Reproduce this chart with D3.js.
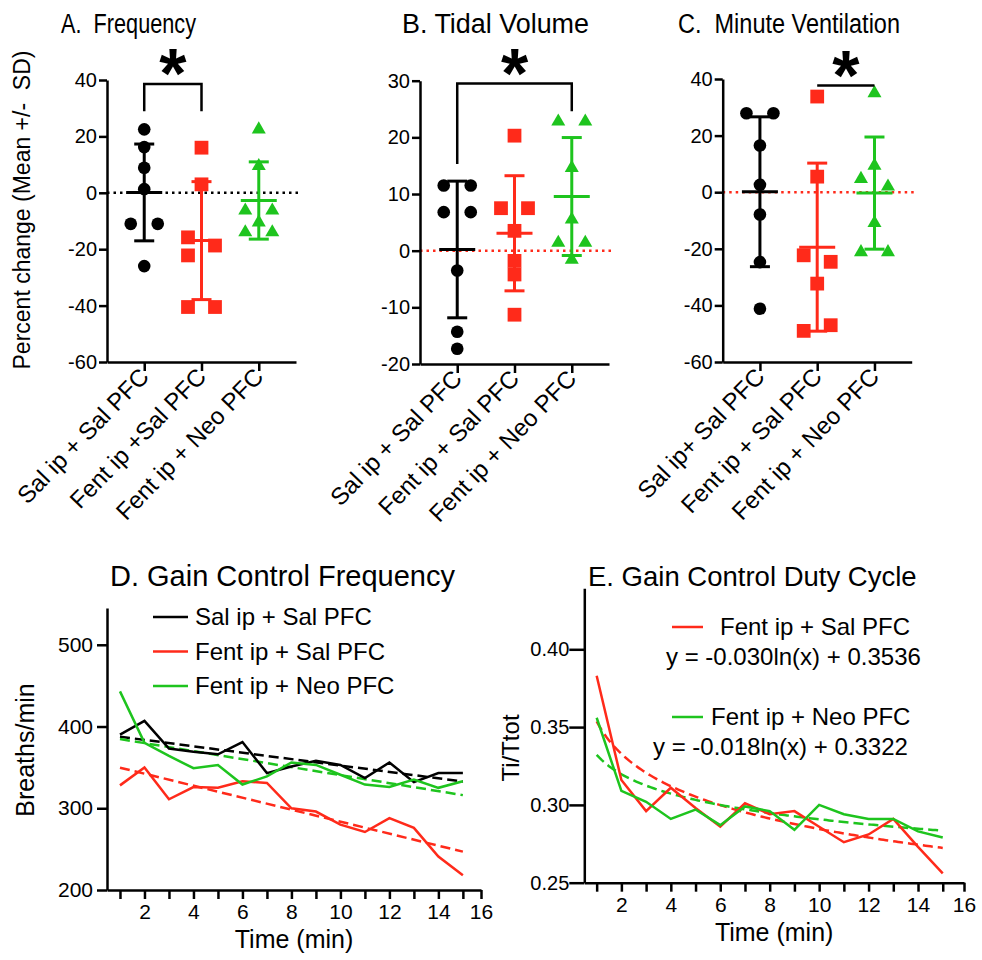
<!DOCTYPE html>
<html>
<head>
<meta charset="utf-8">
<script src="https://cdn.jsdelivr.net/npm/d3@7"></script>
<style>
  body { margin: 0; background: #fff; }
  svg { display: block; }
  text { font-family: "Liberation Sans", Arial, sans-serif; fill: #000; white-space: pre; }
</style>
</head>
<body>
<svg id="chart" width="982" height="960"></svg>
<script>
// group names + colours
const groups = ["Sal ip + Sal PFC", "Fent ip + Sal PFC", "Fent ip + Neo PFC"];
const colors = ["#000000", "#ff2a1a", "#1ec41e"];

// panel A - frequency, % change
const freqSal = [22.5, 16.2, 8.9, 1.3, -11, -11, -26];
const freqFent = [16, 3, -15.8, -18.7, -22.2, -40.5, -40.5];
const freqNeo = [22.5, 9.5, -6.3, -6.3, -10.5, -14, -14];
// which column each dot sits in (-1 left, 0 centre, 1 right)
const freqSlots = [[0, 0, 0, 0, -1, 1, 0], [0, 0, -1, 1, -1, -1, 1], [0, 0, -1, 1, 0, -1, 1]];
const freqLabels = ["Sal ip + Sal PFC", "Fent ip +Sal PFC", "Fent ip + Neo PFC"];
const freqTicks = [-60, -40, -20, 0, 20, 40];

// panel B - tidal volume, % change
const tvSal = [11.5, 11.5, 6.8, 6.8, -3.5, -14.3, -17.3];
const tvFent = [20.3, 7.5, 7.5, 3.5, -1.8, -4.2, -11.3];
const tvNeo = [22.8, 22.8, 14.6, 5.5, 1.4, 1.4, -1.6];
const tvSlots = [[-1, 1, -1, 1, 0, 0, 0], [0, -1, 1, 0, 0, 0, 0], [-1, 1, 0, 0, -1, 1, 0]];
const tvLabels = ["Sal ip + Sal PFC", "Fent ip + Sal PFC", "Fent ip + Neo PFC"];
const tvTicks = [-20, -10, 0, 10, 20, 30];

// panel C - minute ventilation, % change
const mvSal = [27.9, 27.9, 16.5, 2.6, -7.9, -24.7, -41.2];
const mvFent = [33.8, 5.5, -22.3, -24.6, -32.3, -47, -49];
const mvNeo = [35, 9.4, 4.7, 2, -10.9, -21.2, -21.2];
const mvSlots = [[-1, 1, 0, 0, 0, 0, 0], [0, 0, -1, 1, 0, 1, -1], [0, 0, -1, 1, 0, -1, 1]];
const mvLabels = ["Sal ip+ Sal PFC", "Fent ip + Sal PFC", "Fent ip + Neo PFC"];
const mvTicks = [-60, -40, -20, 0, 20, 40];

// panel D - gain control frequency (breaths/min)
const minutes = [1, 2, 3, 4, 5, 6, 7, 8, 9, 10, 11, 12, 13, 14, 15];
const gainSal = [390, 407, 373, 369, 366, 381, 343, 351, 358, 353, 337, 356, 332, 343, 343];
const gainFent = [328, 350, 311, 326, 325, 333, 331, 300, 296, 280, 271, 288, 276, 241, 218];
const gainNeo = [443, 380, 364, 349, 353, 329, 339, 356, 353, 341, 329, 326, 335, 325, 333];
const gainTicks = [200, 300, 400, 500];

// panel E - duty cycle Ti/Ttot, with log fits [slope, intercept]
const dutyFent = [0.383, 0.316, 0.296, 0.311, 0.298, 0.286, 0.301, 0.294, 0.296, 0.286, 0.276, 0.281, 0.291, 0.273, 0.256];
const dutyNeo = [0.356, 0.309, 0.302, 0.291, 0.297, 0.287, 0.299, 0.296, 0.284, 0.300, 0.294, 0.291, 0.291, 0.283, 0.279];
const fitFent = [-0.030, 0.3536];
const fitNeo = [-0.018, 0.3322];
const dutyTicks = [0.25, 0.30, 0.35, 0.40];

const svg = d3.select("#chart");
const shapes = [d3.symbolCircle, d3.symbolSquare, d3.symbolTriangle];
const shapeSizes = [125, 190, 85];

function styleAxis(sel, fontSize) {
  sel.selectAll("path, line").attr("stroke", "#000").attr("stroke-width", 2.5);
  sel.selectAll("text").attr("font-size", fontSize).attr("font-family", null).attr("fill", "#000");
}

function scatterPanel(p) {
  const g = svg.append("g");
  const y = d3.scaleLinear().domain(p.yDomain).range([p.bottom, p.top]);
  const x = d3.scalePoint().domain([0, 1, 2]).range([p.left, p.left + 189]).padding(0.65);
  const slot = d3.scalePoint().domain([-1, 0, 1]).range([-13.5, 13.5]);

  // dotted zero line
  g.append("line")
    .attr("x1", p.left).attr("x2", p.left + 192)
    .attr("y1", y(0)).attr("y2", y(0))
    .attr("stroke", p.zeroColor).attr("stroke-width", 2.5)
    .attr("stroke-dasharray", "2.5,4");

  g.append("g")
    .attr("transform", `translate(${p.left},0)`)
    .call(d3.axisLeft(y).tickValues(p.yTicks).tickSize(8).tickSizeOuter(0).tickFormat((d) => String(d)))
    .call((a) => styleAxis(a, 20))
    .call((a) => a.selectAll("text").attr("x", -10));

  g.append("g")
    .attr("transform", `translate(0,${p.bottom})`)
    .call(d3.axisBottom(x).tickSize(9).tickSizeOuter(0).tickFormat(""))
    .call((a) => styleAxis(a, 20));

  // rotated category labels
  g.selectAll(".cat")
    .data(p.labels)
    .join("text")
    .attr("transform", (d, i) => `translate(${x(i) + 6},${p.bottom + 16}) rotate(-46)`)
    .attr("text-anchor", "end")
    .attr("font-size", 24)
    .text((d) => d);

  p.series.forEach((vals, i) => {
    const m = d3.mean(vals);
    const s = d3.deviation(vals);
    const cx = x(i);
    const c = colors[i];
    const eb = g.append("g").attr("stroke", c).attr("stroke-width", 3);
    eb.append("line").attr("x1", cx).attr("x2", cx).attr("y1", y(m - s)).attr("y2", y(m + s));
    eb.append("line").attr("x1", cx - 18).attr("x2", cx + 18).attr("y1", y(m)).attr("y2", y(m));
    [m - s, m + s].forEach((v) => {
      eb.append("line").attr("x1", cx - 10).attr("x2", cx + 10).attr("y1", y(v)).attr("y2", y(v));
    });

    g.selectAll(null)
      .data(vals)
      .join("path")
      .attr("d", d3.symbol(shapes[i], shapeSizes[i]))
      .attr("transform", (d, j) => `translate(${cx + slot(p.slots[i][j])},${y(d)})`)
      .attr("fill", c);
  });

  // significance bracket
  const b = p.bracket;
  const x1 = x(b.from), x2 = x(b.to);
  const d = `M${x1},${y(b.legs[0])}V${y(b.top)}H${x2}V${y(b.legs[1])}`;
  g.append("path").attr("d", d).attr("fill", "none").attr("stroke", "#000").attr("stroke-width", 2.5);
  g.append("text")
    .attr("x", (x1 + x2) / 2)
    .attr("y", y(b.top) + 14)
    .attr("text-anchor", "middle")
    .attr("font-size", 70)
    .attr("font-weight", "bold")
    .text("*");

  g.append("text")
    .attr("x", p.titleX)
    .attr("y", 33)
    .attr("font-size", 27)
    .attr("textLength", p.titleW)
    .attr("lengthAdjust", "spacingAndGlyphs")
    .text(p.title);
}

scatterPanel({
  title: "A.  Frequency", titleX: 61, titleW: 135,
  left: 107, top: 80, bottom: 362, yDomain: [-60, 40], yTicks: freqTicks,
  series: [freqSal, freqFent, freqNeo], slots: freqSlots, labels: freqLabels,
  zeroColor: "#000", bracket: { from: 0, to: 1, top: 38.6, legs: [28.9, 28.9] },
});
scatterPanel({
  title: "B. Tidal Volume", titleX: 402, titleW: 187,
  left: 420, top: 80.7, bottom: 364, yDomain: [-20, 30], yTicks: tvTicks,
  series: [tvSal, tvFent, tvNeo], slots: tvSlots, labels: tvLabels,
  zeroColor: colors[1], bracket: { from: 0, to: 2, top: 29.5, legs: [15.3, 24.6] },
});
scatterPanel({
  title: "C.  Minute Ventilation", titleX: 678, titleW: 222,
  left: 722.7, top: 79, bottom: 362, yDomain: [-60, 40], yTicks: mvTicks,
  series: [mvSal, mvFent, mvNeo], slots: mvSlots, labels: mvLabels,
  zeroColor: colors[1], bracket: { from: 1, to: 2, top: 37.7, legs: [37.7, 37.7] },
});

// y title shared by A-C
svg.append("text")
  .attr("transform", "translate(30,210) rotate(-90)")
  .attr("text-anchor", "middle")
  .attr("font-size", 23)
  .text("Percent change (Mean +/-  SD)");

// least squares for the dashed trend lines in D
function linReg(xs, ys) {
  const mx = d3.mean(xs), my = d3.mean(ys);
  const sxy = d3.sum(xs, (v, i) => (v - mx) * (ys[i] - my));
  const sxx = d3.sum(xs, (v) => (v - mx) ** 2);
  const k = sxy / sxx;
  return [k, my - k * mx];
}

function timeAxis(g, x, bottom, end) {
  const ticks = minutes.concat([end]);
  g.append("g")
    .attr("transform", `translate(0,${bottom})`)
    .call(d3.axisBottom(x).tickValues(ticks).tickSize(9).tickSizeOuter(0)
      .tickFormat((d) => (d === end ? "16" : d % 2 === 0 ? String(d) : "")))
    .call((a) => styleAxis(a, 21))
    .call((a) => a.selectAll("text").attr("y", 14));
  const r = x.range();
  g.append("text")
    .attr("x", (r[0] + r[1]) / 2)
    .attr("y", bottom + 58)
    .attr("text-anchor", "middle")
    .attr("font-size", 25)
    .text("Time (min)");
}

// ---- panel D ----
{
  const g = svg.append("g");
  const x = d3.scaleLinear().domain([0.47, 15.74]).range([107, 481]);
  const y = d3.scaleLinear().domain([200, 545]).range([890, 608]);

  g.append("g")
    .attr("transform", "translate(107,0)")
    .call(d3.axisLeft(y).tickValues(gainTicks).tickSize(10).tickSizeOuter(0))
    .call((a) => styleAxis(a, 21))
    .call((a) => a.selectAll("text").attr("x", -14));
  timeAxis(g, x, 890, 15.74);

  const line = d3.line().x((d) => x(d[0])).y((d) => y(d[1]));
  [gainSal, gainFent, gainNeo].forEach((vals, i) => {
    const [k, b] = linReg(minutes, vals);
    g.append("path")
      .attr("d", line([[1, k + b], [15, 15 * k + b]]))
      .attr("fill", "none").attr("stroke", colors[i]).attr("stroke-width", 2.5)
      .attr("stroke-dasharray", "10,5");
  });
  [gainSal, gainFent, gainNeo].forEach((vals, i) => {
    g.append("path")
      .attr("d", line(minutes.map((m, j) => [m, vals[j]])))
      .attr("fill", "none").attr("stroke", colors[i]).attr("stroke-width", 2.5);
  });

  groups.forEach((name, i) => {
    const ly = 617 + i * 34.5;
    g.append("line").attr("x1", 153).attr("x2", 188).attr("y1", ly).attr("y2", ly)
      .attr("stroke", colors[i]).attr("stroke-width", 2.5);
    g.append("text").attr("x", 195).attr("y", ly).attr("dy", "0.35em")
      .attr("font-size", 24).text(name);
  });

  g.append("text").attr("x", 110).attr("y", 586).attr("font-size", 29)
    .text("D. Gain Control Frequency");
  g.append("text")
    .attr("transform", "translate(34,750) rotate(-90)")
    .attr("text-anchor", "middle")
    .attr("font-size", 25)
    .text("Breaths/min");
}

// ---- panel E ----
{
  const g = svg.append("g");
  const x = d3.scaleLinear().domain([0.5, 15.86]).range([584.3, 964]);
  const y = d3.scaleLinear().domain([0.25, 0.4392]).range([882.7, 588.3]);

  g.append("g")
    .attr("transform", "translate(584.3,0)")
    .call(d3.axisLeft(y).tickValues(dutyTicks).tickSize(15).tickSizeOuter(0).tickFormat(d3.format(".2f")))
    .call((a) => styleAxis(a, 20))
    .call((a) => a.selectAll("text").attr("x", -15));
  timeAxis(g, x, 882.7, 15.86);

  const line = d3.line().x((d) => x(d[0])).y((d) => y(d[1]));
  const xs = d3.range(1, 15.001, 0.1);
  [[fitFent, colors[1]], [fitNeo, colors[2]]].forEach(([fit, c]) => {
    g.append("path")
      .attr("d", line(xs.map((t) => [t, fit[0] * Math.log(t) + fit[1]])))
      .attr("fill", "none").attr("stroke", c).attr("stroke-width", 2.5)
      .attr("stroke-dasharray", "10,5");
  });
  [[dutyFent, colors[1]], [dutyNeo, colors[2]]].forEach(([vals, c]) => {
    g.append("path")
      .attr("d", line(minutes.map((m, j) => [m, vals[j]])))
      .attr("fill", "none").attr("stroke", c).attr("stroke-width", 2.5);
  });

  const legendE = [
    { name: groups[1], fit: fitFent, c: colors[1], ly: 627, tx: 720, ex: 666 },
    { name: groups[2], fit: fitNeo, c: colors[2], ly: 717, tx: 711, ex: 653 },
  ];
  legendE.forEach((l) => {
    g.append("line").attr("x1", 672).attr("x2", 703).attr("y1", l.ly).attr("y2", l.ly)
      .attr("stroke", l.c).attr("stroke-width", 2.5);
    g.append("text").attr("x", l.tx).attr("y", l.ly).attr("dy", "0.35em")
      .attr("font-size", 24).text(l.name);
    g.append("text").attr("x", l.ex).attr("y", l.ly + 30).attr("dy", "0.35em")
      .attr("font-size", 24).text(`y = ${l.fit[0].toFixed(3)}ln(x) + ${l.fit[1]}`);
  });

  g.append("text").attr("x", 588).attr("y", 586).attr("font-size", 27.5)
    .text("E. Gain Control Duty Cycle");
  g.append("text")
    .attr("transform", "translate(519,748) rotate(-90)")
    .attr("text-anchor", "middle")
    .attr("font-size", 24)
    .text("Ti/Ttot");
}
</script>
</body>
</html>
